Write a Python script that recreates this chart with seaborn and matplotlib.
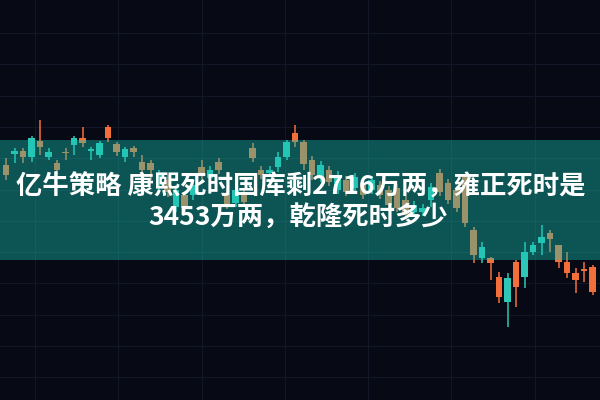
import matplotlib
matplotlib.use('Agg')
import matplotlib.pyplot as plt
import seaborn as sns
import numpy as np
import pandas as pd

# title text (two lines)
title_1 = '亿牛策略 康熙死时国库剩2716万两，雍正死时是'
title_2 = '3453万两，乾隆死时多少'

# candle values (price units)
open_ = [235, 246, 249, 243, 259, 243, 237, 248, 255, 262,
         249, 245, 273, 256, 243, 252, 238, 237, 215, 220,
         193, 205, 205, 233, 222, 238, 207, 197, 208, 252,
         230, 227, 233, 243, 267, 258, 240, 222, 230, 210,
         220, 212, 217, 210, 215, 210, 212, 200, 188, 188,
         200, 227, 217, 210, 223, 170, 142, 142, 123, 98,
         138, 123, 148, 157, 167, 155, 138, 127, 131, 133]
close = [225, 249, 243, 262, 253, 248, 230, 247, 262, 257,
         251, 257, 262, 248, 251, 248, 230, 230, 225, 208,
         210, 192, 215, 225, 230, 230, 195, 210, 198, 242,
         225, 230, 243, 258, 258, 236, 225, 235, 218, 225,
         208, 223, 205, 220, 205, 195, 192, 185, 195, 192,
         213, 208, 200, 192, 177, 145, 153, 137, 103, 122,
         113, 148, 155, 163, 161, 138, 127, 120, 129, 108]
high = [242, 252, 252, 264, 280, 252, 240, 252, 264, 273,
        253, 259, 275, 258, 253, 254, 245, 240, 230, 225,
        215, 208, 219, 240, 234, 242, 211, 214, 212, 257,
        234, 234, 248, 260, 275, 260, 244, 239, 234, 229,
        224, 227, 221, 224, 219, 214, 216, 204, 199, 196,
        217, 231, 221, 214, 225, 173, 158, 143, 128, 127,
        140, 158, 158, 175, 170, 155, 148, 132, 138, 135]
low = [220, 237, 237, 238, 245, 240, 224, 240, 245, 253,
       240, 242, 258, 244, 238, 243, 225, 220, 210, 203,
       188, 187, 200, 220, 218, 226, 191, 193, 194, 238,
       221, 223, 228, 240, 253, 230, 220, 218, 214, 206,
       204, 208, 201, 206, 201, 191, 188, 181, 184, 184,
       193, 204, 196, 188, 173, 137, 137, 120, 97, 73,
       93, 112, 145, 145, 148, 132, 122, 107, 118, 105]

up_color = '#2ec6b4'
down_color = '#f36f3a'
bg_color = '#070915'
grid_color = '#121627'

sns.set_theme(style='dark')
plt.rcParams['font.family'] = ['Noto Sans CJK SC', 'DejaVu Sans']

df = pd.DataFrame({'open': open_, 'close': close, 'high': high, 'low': low})
df['i'] = np.arange(len(df))
df['up'] = df['close'] >= df['open']
df['color'] = np.where(df['up'], up_color, down_color)
df['bottom'] = df[['open', 'close']].min(axis=1)
df['height'] = (df['close'] - df['open']).abs().clip(lower=1.2)

fig = plt.figure(figsize=(6, 4), dpi=100)
ax = fig.add_axes([0, 0, 1, 1])
fig.patch.set_facecolor(bg_color)
ax.set_facecolor(bg_color)

# faint grid
ax.set_xticks(3.4 + 9.8 * np.arange(7))
ax.set_yticks(367 - 31.3 * np.arange(12))
ax.grid(True, color=grid_color, linewidth=0.8)
ax.tick_params(length=0, labelbottom=False, labelleft=False)
for s in ax.spines.values():
    s.set_visible(False)

# candles
ax.vlines(df['i'], df['low'], df['high'], colors=df['color'], linewidth=1.1, zorder=2)
ax.bar(df['i'], df['height'], bottom=df['bottom'], width=0.8,
       color=df['color'], linewidth=0, zorder=3)

# teal band behind the title
ax.axhspan(140, 260, color='#14c8b4', alpha=0.4, linewidth=0, zorder=4)

ax.set_xlim(-0.706, 69.88)
ax.set_ylim(0, 400)

ax.text(0.502, 0.533, title_1, transform=ax.transAxes, ha='center', va='center',
        fontsize=19, fontweight='bold', color='white', zorder=5)
ax.text(0.497, 0.455, title_2, transform=ax.transAxes, ha='center', va='center',
        fontsize=19, fontweight='bold', color='white', zorder=5)

plt.savefig('out.png', dpi=100, facecolor=bg_color)
